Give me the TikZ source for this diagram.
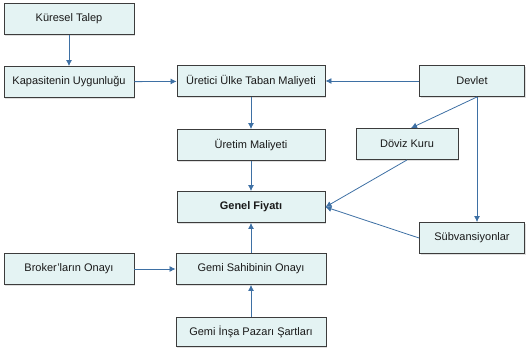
\documentclass[tikz,border=0pt]{standalone}
\usepackage{fontspec}
\setmainfont{Liberation Sans}
\usetikzlibrary{shadows,arrows.meta}
\definecolor{boxfill}{RGB}{228,243,243}
\definecolor{boxline}{RGB}{60,60,60}
\definecolor{arrowblue}{RGB}{62,112,164}
\begin{document}
\begin{tikzpicture}[x=1pt,y=-1pt,
	box/.style={draw=boxline,fill=boxfill,line width=0.9pt,minimum height=31pt,
		text=black!90,font=\fontsize{11}{13}\selectfont,
		drop shadow={shadow xshift=1pt,shadow yshift=-1.2pt,opacity=0.25}},
	conn/.style={-{Latex[length=6pt,width=6pt]},arrowblue,line width=0.8pt}]
	
	\useasboundingbox (0,0) rectangle (529,348);
	
	\node[box,minimum width=130pt] (kuresel) at (69,19) {Küresel Talep};
	\node[box,minimum width=130pt] (kapasite) at (69,82) {Kapasitenin Uygunluğu};
	\node[box,minimum width=148pt] (uretici) at (251,81) {Üretici Ülke Taban Maliyeti};
	\node[box,minimum width=148pt] (uretim) at (251,145) {Üretim Maliyeti};
	\node[box,minimum width=105pt] (devlet) at (472,81) {Devlet};
	\node[box,minimum width=102pt] (doviz) at (407,144) {Döviz Kuru};
	\node[box,minimum width=105pt] (subv) at (472,238) {Sübvansiyonlar};
	\node[box,minimum width=148pt] (genel) at (251,207) {\bfseries Genel Fiyatı};
	\node[box,minimum width=130pt] (broker) at (69,269) {Broker'ların Onayı};
	\node[box,minimum width=150pt] (sahip) at (251,269) {Gemi Sahibinin Onayı};
	\node[box,minimum width=150pt,minimum height=29pt] (insa) at (251,332) {Gemi İnşa Pazarı Şartları};
	
	\draw[conn] (kuresel) -- (kapasite);
	\draw[conn] (kapasite) -- (uretici);
	\draw[conn] (devlet) -- (uretici);
	\draw[conn] (uretici) -- (uretim);
	\draw[conn] (uretim) -- (genel);
	\draw[conn] ([xshift=5pt]devlet.south) -- ([xshift=4pt]doviz.north);
	\draw[conn] ([xshift=5pt]devlet.south) -- ([xshift=5pt]subv.north);
	\draw[conn] (doviz.south) -- (genel.east);
	\draw[conn] (subv.west) -- (genel.east);
	\draw[conn] (sahip) -- (genel);
	\draw[conn] (broker) -- (sahip);
	\draw[conn] (insa) -- (sahip);
	
\end{tikzpicture}
\end{document}
